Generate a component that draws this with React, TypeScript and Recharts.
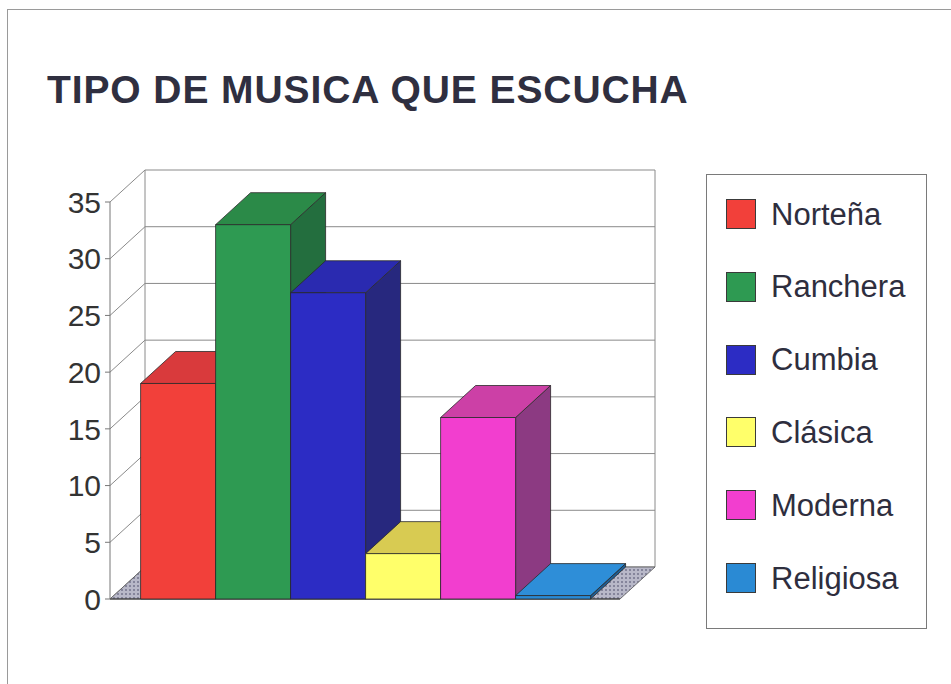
import { BarChart, Bar, XAxis, YAxis, CartesianGrid, Legend, ReferenceArea } from 'recharts';

// survey answers, one series per music type
const categories = ['Norteña', 'Ranchera', 'Cumbia', 'Clásica', 'Moderna', 'Religiosa'];
const counts = [19, 33, 27, 4, 16, 0.3];
const yTicks = [0, 5, 10, 15, 20, 25, 30, 35];

const frontColors = ['#f2403a', '#2e9a52', '#2c2cc4', '#ffff6a', '#f23ecf', '#2a8ad4'];
const topColors = ['#d93a3c', '#2b8a48', '#2a2ab0', '#d8cb52', '#cc40a6', '#2e8ed8'];
const sideColors = ['#b03030', '#236e3e', '#27287e', '#b0a640', '#8c3a82', '#1f5e94'];

const row: Record<string, string | number> = { grupo: 'Música' };
categories.forEach((c, i) => {
  row[c] = counts[i];
});
const data = [row];

const DX = 35;
const DY = -32;
const FONT = '"Liberation Sans", Arial, sans-serif';
const GRID = '#8a8a8a';

const makeBox = (i: number) => (props: any) => {
  const { x, y, width: w, height: h } = props;
  return (
    <g stroke="#2a2a2a" strokeWidth={0.8} strokeLinejoin="round">
      <polygon
        points={`${x + w},${y} ${x + w + DX},${y + DY} ${x + w + DX},${y + h + DY} ${x + w},${y + h}`}
        fill={sideColors[i]}
      />
      <polygon
        points={`${x},${y} ${x + DX},${y + DY} ${x + w + DX},${y + DY} ${x + w},${y}`}
        fill={topColors[i]}
      />
      <rect x={x} y={y} width={w} height={h} fill={frontColors[i]} />
    </g>
  );
};

// back wall gridline + diagonal on the left wall for each tick
const wallLine = (p: any) => (
  <g key={`wall-${p.index}`}>
    <line x1={p.x1 + DX} y1={p.y1 + DY} x2={p.x2 + DX} y2={p.y2 + DY} stroke={GRID} strokeWidth={1} />
    <line x1={p.x1} y1={p.y1} x2={p.x1 + DX} y2={p.y1 + DY} stroke={GRID} strokeWidth={1} />
  </g>
);

const frame = (p: any) => {
  const { x, y, width: w, height: h } = p;
  const b = y + h;
  return (
    <g>
      <defs>
        <pattern id="floorDots" width="4" height="4" patternUnits="userSpaceOnUse">
          <rect width="4" height="4" fill="#b8b8c8" />
          <circle cx="2" cy="2" r="1" fill="#74748c" />
        </pattern>
      </defs>
      <line x1={x + DX} y1={y + DY} x2={x + DX} y2={b + DY} stroke={GRID} />
      <line x1={x + w + DX} y1={y + DY} x2={x + w + DX} y2={b + DY} stroke={GRID} />
      <polygon
        points={`${x},${b} ${x + DX},${b + DY} ${x + w + DX},${b + DY} ${x + w},${b}`}
        fill="url(#floorDots)"
        stroke="#555"
        strokeWidth={0.8}
      />
      <line x1={x} y1={b} x2={x + w} y2={b} stroke="#333" strokeWidth={1.2} />
    </g>
  );
};

const renderLegend = () => (
  <div
    style={{
      position: 'relative',
      width: 221,
      height: 455,
      boxSizing: 'border-box',
      border: '1.5px solid #7a7a7a',
      background: '#fff',
      fontFamily: FONT,
    }}
  >
    {categories.map((c, i) => (
      <div
        key={c}
        style={{
          position: 'absolute',
          left: 19,
          top: 24 + i * 72.8,
          height: 30,
          display: 'flex',
          alignItems: 'center',
          whiteSpace: 'nowrap',
        }}
      >
        <span
          style={{
            width: 30,
            height: 30,
            boxSizing: 'border-box',
            border: '1.5px solid #3a3a3a',
            background: frontColors[i],
            display: 'inline-block',
          }}
        />
        <span style={{ marginLeft: 15, fontSize: 31, lineHeight: 1, color: '#2e2e3e' }}>{c}</span>
      </div>
    ))}
  </div>
);

export default function App() {
  return (
    <div style={{ position: 'absolute', left: 0, top: 0, width: 951, height: 684, background: '#fff' }}>
      <div
        style={{
          position: 'absolute',
          left: 7,
          top: 9,
          width: 944,
          height: 675,
          boxSizing: 'border-box',
          borderTop: '1.5px solid #9a9a9a',
          borderLeft: '1.5px solid #9a9a9a',
        }}
      />
      <div
        style={{
          position: 'absolute',
          left: 47,
          top: 70,
          fontFamily: FONT,
          fontSize: 39,
          fontWeight: 'bold',
          lineHeight: 1,
          letterSpacing: 0.9,
          color: '#2f2f40',
          whiteSpace: 'nowrap',
        }}
      >
        TIPO DE MUSICA QUE ESCUCHA
      </div>
      <div style={{ position: 'absolute', left: 0, top: 0 }}>
        <BarChart
          width={951}
          height={684}
          data={data}
          margin={{ top: 202, right: 331, bottom: 85, left: 50 }}
          barCategoryGap="6%"
          barGap={0}
        >
          <CartesianGrid horizontal={wallLine} vertical={false} />
          <ReferenceArea y1={0} y2={35} shape={frame} />
          <XAxis dataKey="grupo" hide />
          <YAxis
            width={60}
            domain={[0, 35]}
            ticks={yTicks}
            interval={0}
            tickSize={5}
            tickMargin={4}
            axisLine={{ stroke: '#777' }}
            tickLine={{ stroke: '#777' }}
            tick={{ fontFamily: FONT, fontSize: 30, fill: '#333' }}
          />
          {categories.map((c, i) => (
            <Bar
              key={c}
              dataKey={c}
              fill={frontColors[i]}
              shape={makeBox(i)}
              isAnimationActive={false}
            />
          ))}
          <Legend
            layout="vertical"
            align="center"
            verticalAlign="middle"
            wrapperStyle={{ left: 706, top: 174, width: 221, height: 455 }}
            content={renderLegend}
          />
        </BarChart>
      </div>
    </div>
  );
}
